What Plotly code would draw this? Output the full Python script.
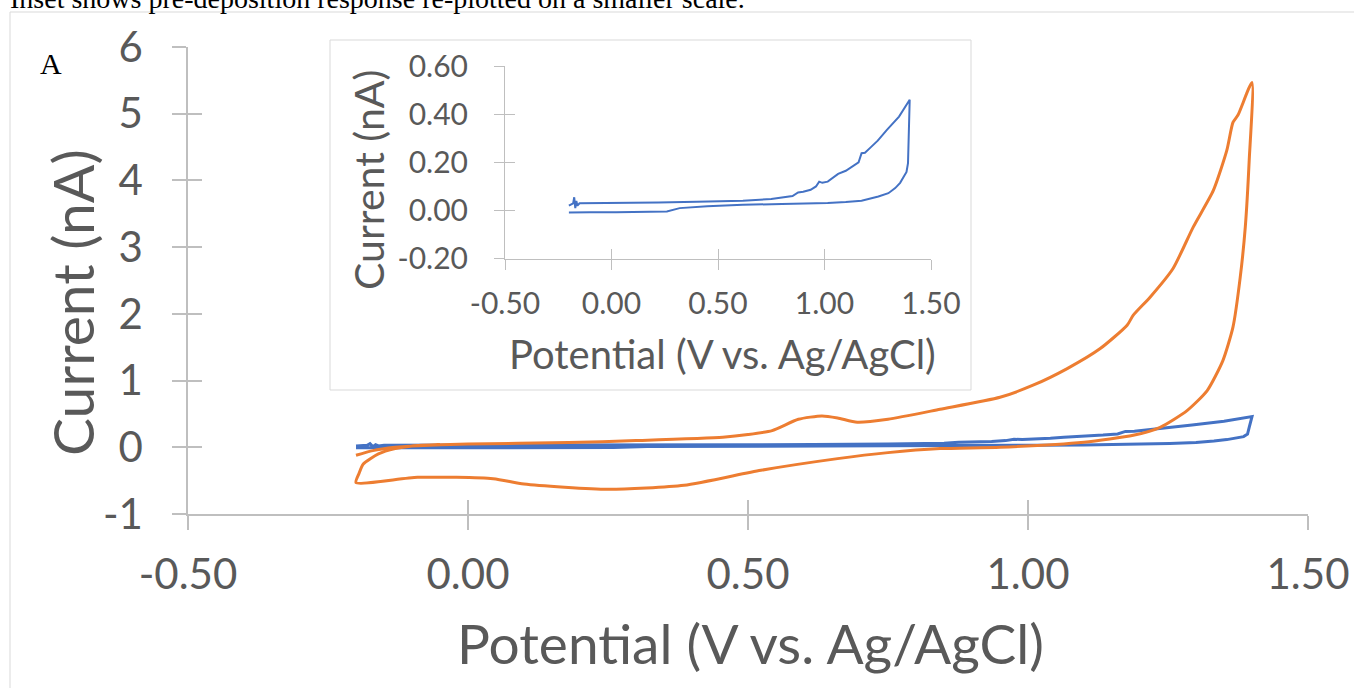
import plotly.graph_objects as go

# ---- data ----
blue_v = [-0.20, -0.19, -0.18, -0.175, -0.17, -0.165, -0.16, -0.15, -0.10, 0.00, 0.10, 0.22, 0.40,
          0.617, 0.75, 0.816, 0.85, 0.876, 0.90, 0.935, 0.96, 0.975, 0.99, 1.015, 1.04, 1.064, 1.10,
          1.134, 1.16, 1.174, 1.19, 1.213, 1.25, 1.293, 1.35, 1.40,
          1.395, 1.392, 1.385, 1.372, 1.355, 1.332, 1.30, 1.253, 1.174, 1.10, 1.015, 0.80, 0.617,
          0.45, 0.32, 0.26, 0.15, 0.021, -0.10, -0.177, -0.20]
blue_i = [0.020, 0.025, 0.030, 0.055, 0.010, 0.040, 0.020, 0.030, 0.030, 0.031, 0.032, 0.033, 0.036,
          0.041, 0.048, 0.054, 0.060, 0.075, 0.078, 0.086, 0.100, 0.120, 0.115, 0.120, 0.135, 0.152, 0.165,
          0.183, 0.200, 0.238, 0.240, 0.259, 0.290, 0.335, 0.390, 0.460,
          0.300, 0.197, 0.160, 0.141, 0.115, 0.093, 0.072, 0.058, 0.041, 0.035, 0.031, 0.027, 0.024,
          0.018, 0.010, -0.004, -0.006, -0.007, -0.007, -0.008, -0.008]

orange_v = [-0.20, -0.17, -0.13, -0.10, 0.00, 0.18, 0.30, 0.455, 0.50, 0.543, 0.59, 0.632, 0.66, 0.695,
            0.75, 0.843, 0.95, 1.009, 1.07, 1.129, 1.177, 1.188, 1.218, 1.259, 1.295, 1.331, 1.355,
            1.366, 1.375, 1.40,
            1.395, 1.388, 1.379, 1.366, 1.348, 1.32, 1.284, 1.236, 1.188, 1.10, 0.95, 0.843, 0.75,
            0.66, 0.523, 0.386, 0.25, 0.10, 0.045, -0.09, -0.20,
            -0.195, -0.187, -0.16, -0.13, -0.10, -0.05]
orange_i = [-0.12, -0.05, 0.00, 0.02, 0.05, 0.07, 0.10, 0.15, 0.19, 0.25, 0.42, 0.47, 0.44, 0.375,
            0.42, 0.57, 0.75, 0.93, 1.18, 1.48, 1.83, 1.98, 2.25, 2.68, 3.30, 3.85, 4.45,
            4.87, 4.98, 5.47,
            4.30, 3.30, 2.55, 1.80, 1.30, 0.85, 0.55, 0.30, 0.18, 0.075, 0.00, -0.02, -0.08,
            -0.17, -0.345, -0.57, -0.63, -0.55, -0.47, -0.45, -0.53,
            -0.40, -0.25, -0.10, -0.02, 0.02, 0.04]

main_xticks = [-0.5, 0.0, 0.5, 1.0, 1.5]
main_xtick_text = ["-0.50", "0.00", "0.50", "1.00", "1.50"]
main_yticks = [-1, 0, 1, 2, 3, 4, 5, 6]
main_ytick_text = ["-1", "0", "1", "2", "3", "4", "5", "6"]
inset_yticks = [-0.2, 0.0, 0.2, 0.4, 0.6]
inset_ytick_text = ["-0.20", "0.00", "0.20", "0.40", "0.60"]

x_title = "Potential (V vs. Ag/AgCl)"
y_title = "Current (nA)"
caption = "Inset shows pre-deposition response re-plotted on a smaller scale."

BLUE = "#4472C4"
ORANGE = "#ED7D31"
AX = "#BFBFBF"
TXT = "#595959"
FONT = "Lato"

W, H = 1354, 688
L, R, T, B = 188, 46, 47, 174
pw, ph = W - L - R, H - T - B


def px(xp):
    return (xp - L) / pw


def py(yp):
    return (H - B - yp) / ph


fig = go.Figure()
fig.add_trace(go.Scatter(x=blue_v, y=blue_i, mode="lines", line=dict(color=BLUE, width=3),
                         xaxis="x", yaxis="y", hoverinfo="skip"))
fig.add_trace(go.Scatter(x=orange_v, y=orange_i, mode="lines",
                         line=dict(color=ORANGE, width=3, shape="spline", smoothing=0.6),
                         xaxis="x", yaxis="y", hoverinfo="skip"))
fig.add_trace(go.Scatter(x=blue_v, y=blue_i, mode="lines", line=dict(color=BLUE, width=2),
                         xaxis="x2", yaxis="y2", hoverinfo="skip"))
fig.add_trace(go.Scatter(x=[None], y=[None], xaxis="x3", yaxis="y3", showlegend=False))
fig.add_trace(go.Scatter(x=[None], y=[None], xaxis="x4", yaxis="y4", showlegend=False))

xr = [-0.5, 1.5]
yr = [-1, 6]
iyr = [-0.2, 0.6]

inset_dx = [px(505), px(931)]
inset_dy = [py(258.7), py(66)]

fig.update_layout(
    width=W, height=H,
    margin=dict(l=L, r=R, t=T, b=B, autoexpand=False),
    paper_bgcolor="white", plot_bgcolor="rgba(0,0,0,0)",
    showlegend=False,
    font=dict(family=FONT, color=TXT),
    xaxis=dict(domain=[0, 1], anchor="y", range=xr, tickvals=main_xticks, ticktext=main_xtick_text,
               showgrid=False, zeroline=False, showline=True, linecolor=AX, linewidth=1.5,
               ticks="outside", ticklen=14, tickcolor=AX, tickwidth=1.5, ticklabelstandoff=9,
               tickfont=dict(size=42, color=TXT, family=FONT), automargin=False),
    yaxis=dict(domain=[0, 1], anchor="x", range=yr, tickvals=main_yticks, ticktext=main_ytick_text,
               showgrid=False, zeroline=False, showline=True, linecolor=AX, linewidth=1.5,
               ticks="outside", ticklen=14, tickcolor=AX, tickwidth=1.5, ticklabelstandoff=21,
               tickfont=dict(size=42, color=TXT, family=FONT), automargin=False),
    xaxis3=dict(overlaying="x", anchor="y", side="bottom", range=xr, tickvals=main_xticks,
                showticklabels=False, showgrid=False, zeroline=False, showline=False,
                ticks="inside", ticklen=14, tickcolor=AX, tickwidth=1.5, automargin=False),
    yaxis3=dict(overlaying="y", anchor="x", side="left", range=yr, tickvals=main_yticks,
                showticklabels=False, showgrid=False, zeroline=False, showline=False,
                ticks="inside", ticklen=14, tickcolor=AX, tickwidth=1.5, automargin=False),
    xaxis2=dict(domain=inset_dx, anchor="y2", range=xr, tickvals=main_xticks, ticktext=main_xtick_text,
                showgrid=False, zeroline=False, showline=True, linecolor=AX, linewidth=1,
                ticks="outside", ticklen=10, tickcolor=AX, tickwidth=1, ticklabelstandoff=8,
                tickfont=dict(size=30, color=TXT, family=FONT), automargin=False),
    yaxis2=dict(domain=inset_dy, anchor="x2", range=iyr, tickvals=inset_yticks, ticktext=inset_ytick_text,
                showgrid=False, zeroline=False, showline=True, linecolor=AX, linewidth=1,
                ticks="outside", ticklen=10, tickcolor=AX, tickwidth=1, ticklabelstandoff=20,
                tickfont=dict(size=30, color=TXT, family=FONT), automargin=False),
    xaxis4=dict(overlaying="x2", anchor="y2", side="bottom", range=xr, tickvals=main_xticks,
                showticklabels=False, showgrid=False, zeroline=False, showline=False,
                ticks="inside", ticklen=10, tickcolor=AX, tickwidth=1, automargin=False),
    yaxis4=dict(overlaying="y2", anchor="x2", side="left", range=iyr, tickvals=inset_yticks,
                showticklabels=False, showgrid=False, zeroline=False, showline=False,
                ticks="inside", ticklen=10, tickcolor=AX, tickwidth=1, automargin=False),
)

# document frame and inset box
fig.add_shape(type="rect", xref="paper", yref="paper", x0=px(10), x1=px(W + 20), y0=py(H + 20), y1=py(12),
              line=dict(color="#D9D9D9", width=1), fillcolor="rgba(0,0,0,0)", layer="below")
fig.add_shape(type="rect", xref="paper", yref="paper", x0=px(330), x1=px(971), y0=py(390), y1=py(40),
              line=dict(color="#D9D9D9", width=1), fillcolor="white", layer="below")

# axis titles
fig.add_annotation(text=x_title, xref="paper", yref="paper", x=px(750), y=py(643),
                   xanchor="center", yanchor="middle", showarrow=False,
                   font=dict(family=FONT, size=55, color=TXT))
fig.add_annotation(text=y_title, xref="paper", yref="paper", x=px(72), y=py(302), textangle=-90,
                   xanchor="center", yanchor="middle", showarrow=False,
                   font=dict(family=FONT, size=57, color=TXT))
fig.add_annotation(text=x_title, xref="paper", yref="paper", x=px(722), y=py(354),
                   xanchor="center", yanchor="middle", showarrow=False,
                   font=dict(family=FONT, size=40, color=TXT))
fig.add_annotation(text=y_title, xref="paper", yref="paper", x=px(368), y=py(180), textangle=-90,
                   xanchor="center", yanchor="middle", showarrow=False,
                   font=dict(family=FONT, size=41, color=TXT))

fig.add_annotation(text=caption, xref="paper", yref="paper", x=px(8), y=py(-1.5),
                   xanchor="left", yanchor="middle", showarrow=False,
                   font=dict(family="Liberation Serif", size=28, color="black"))
fig.add_annotation(text="A", xref="paper", yref="paper", x=px(51), y=py(63),
                   xanchor="center", yanchor="middle", showarrow=False,
                   font=dict(family="Liberation Serif", size=30, color="black"))

fig.write_html("out.html")
